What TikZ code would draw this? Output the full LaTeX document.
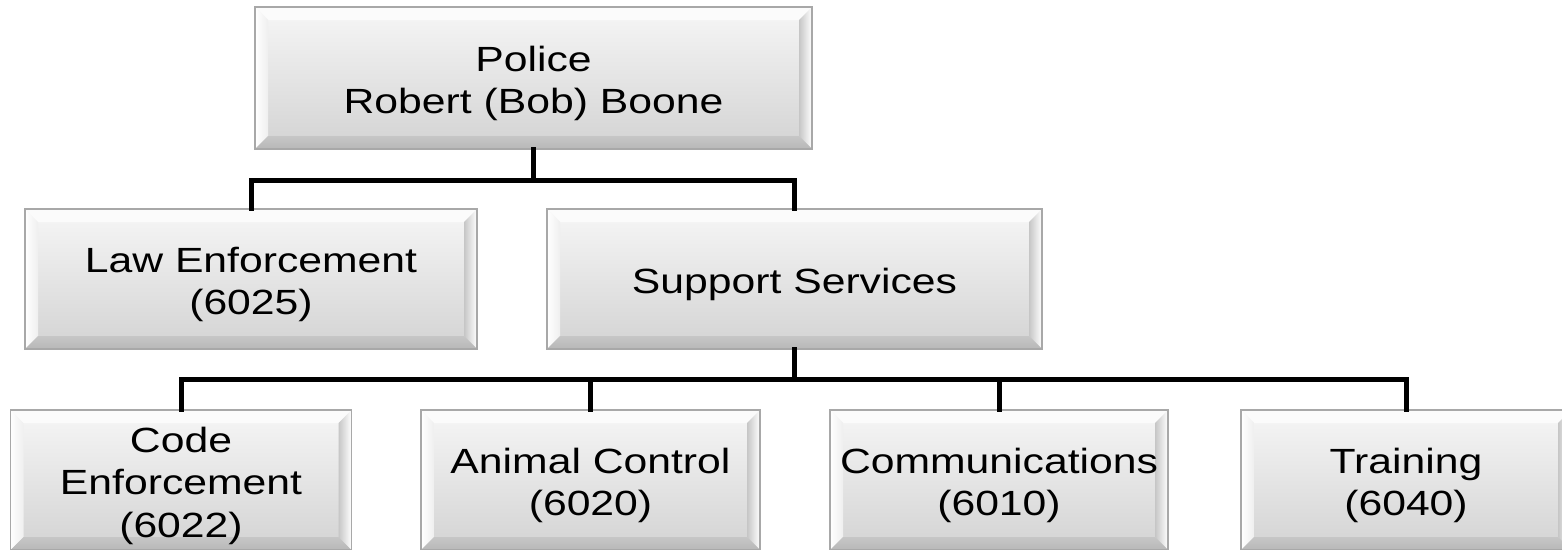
\documentclass[tikz,border=0pt]{standalone}
\usepackage{fontspec}
\usepackage{graphicx}
\setmainfont{Liberation Sans}
\usetikzlibrary{calc}
\definecolor{facetop}{HTML}{F6F6F6}
\definecolor{facebot}{HTML}{D3D3D3}
\definecolor{edgegray}{HTML}{A8A8A8}
\definecolor{bevdark}{HTML}{C6C6C6}
\definecolor{bevbot}{HTML}{B8B8B8}
\definecolor{bevlight}{HTML}{FBFBFB}
\newcommand{\boxtext}[1]{\raisebox{-6pt}[\height][\depth]{\scalebox{1.22}[1]{\begin{tabular}{@{}c@{}}#1\end{tabular}}}}
\tikzset{
  conn/.style={line width=5pt, black, line join=miter, line cap=rect},
  orgbox/.style={rectangle, inner sep=0pt, align=center,
    font=\fontsize{35}{42.5}\selectfont,
    top color=facetop, bottom color=facebot,
    draw=edgegray, line width=1.2pt,
    path picture={
      \path (path picture bounding box.south west) coordinate (bsw)
            (path picture bounding box.north east) coordinate (bne);
      \path (bsw -| bne) coordinate (bse) (bne -| bsw) coordinate (bnw);
      \path ($(bsw)+(13pt,13pt)$) coordinate (isw)
            ($(bne)+(-13pt,-13pt)$) coordinate (ine);
      \path (isw -| ine) coordinate (ise) (ine -| isw) coordinate (inw);
      \fill[bevlight] (bnw) -- (bne) -- (ine) -- (inw) -- cycle;
      \shade[left color=white, right color=facetop!80!facebot] (bnw) -- (bsw) -- (isw) -- (inw) -- cycle;
      \shade[left color=bevdark, right color=white] (bne) -- (bse) -- (ise) -- (ine) -- cycle;
      \shade[top color=bevdark, bottom color=bevbot] (bsw) -- (bse) -- (ise) -- (isw) -- cycle;
    }}
}
\begin{document}
\begin{tikzpicture}[x=1pt,y=-1pt]
\useasboundingbox (0,0) rectangle (1562,549);
\clip (0,0) rectangle (1562,549);
\fill[white] (0,0) rectangle (1562,549);
% bus coordinates
\coordinate (bus1) at (0,180);
\coordinate (bus2) at (0,379);
% nodes
\node[orgbox, minimum width=557pt, minimum height=142pt] (police) at (533.5,78) {\boxtext{Police\\Robert (Bob) Boone}};
\node[orgbox, minimum width=452pt, minimum height=140pt] (law) at (251,279) {\boxtext{Law Enforcement\\(6025)}};
\node[orgbox, minimum width=495pt, minimum height=140pt] (support) at (794.5,279) {\boxtext{Support Services}};
\node[orgbox, minimum width=341pt, minimum height=140pt] (code) at (181,480) {\boxtext{Code\\Enforcement\\(6022)}};
\node[orgbox, minimum width=339pt, minimum height=140pt] (animal) at (590.5,480) {\boxtext{Animal Control\\(6020)}};
\node[orgbox, minimum width=338pt, minimum height=140pt] (comm) at (999,480) {\boxtext{Communications\\(6010)}};
\node[orgbox, minimum width=330pt, minimum height=140pt] (train) at (1406,480) {\boxtext{Training\\(6040)}};
% connectors
\draw[conn] (police.south) -- (police.south |- bus1);
\draw[conn] (law.north) -- (law.north |- bus1) -- (support.north |- bus1) -- (support.north);
\draw[conn] (support.south) -- (support.south |- bus2);
\draw[conn] (code.north) -- (code.north |- bus2) -- (train.north |- bus2) -- (train.north);
\draw[conn] (animal.north) -- (animal.north |- bus2);
\draw[conn] (comm.north) -- (comm.north |- bus2);
\end{tikzpicture}
\end{document}
